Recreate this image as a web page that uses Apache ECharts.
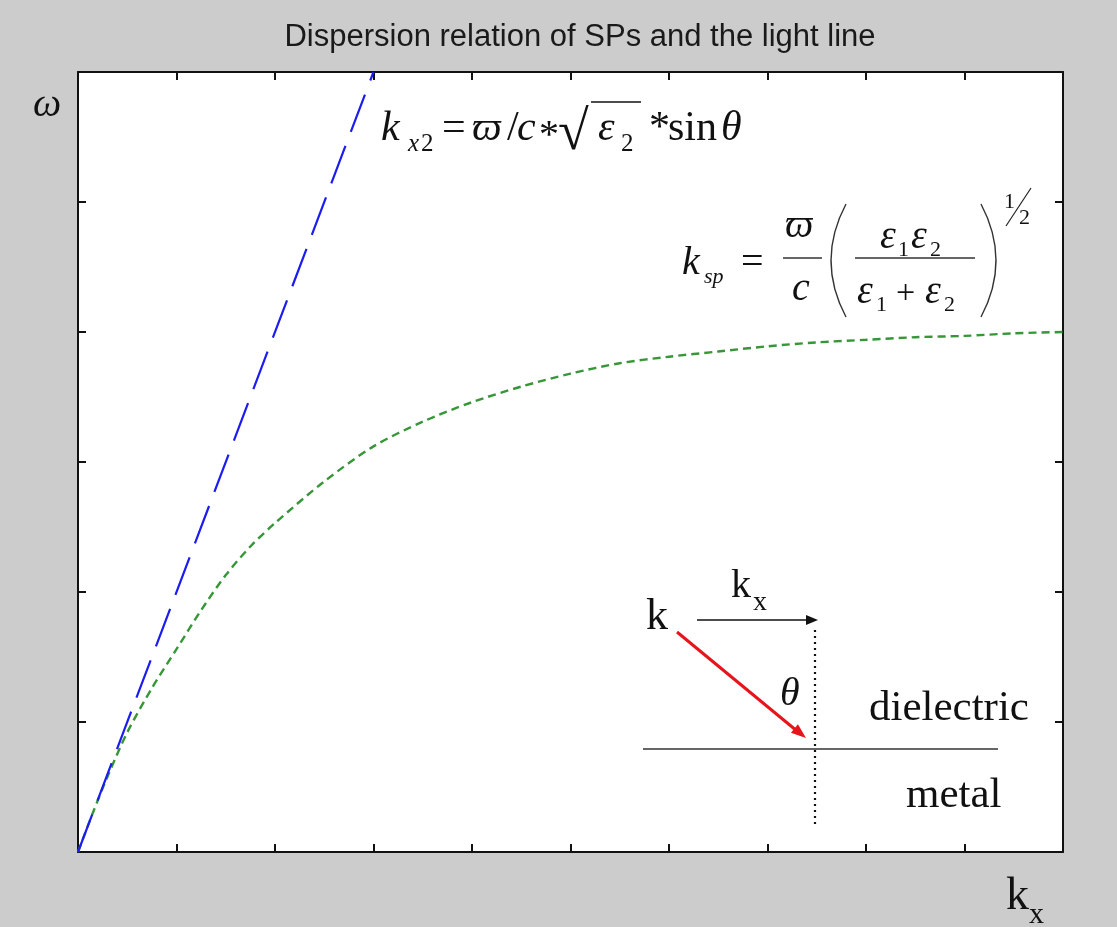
<!DOCTYPE html>
<html>
<head>
<meta charset="utf-8">
<script src="https://cdn.jsdelivr.net/npm/echarts@6/dist/echarts.min.js"></script>
<style>
  html, body { margin: 0; padding: 0; background: #cccccc; }
  #chart { width: 1117px; height: 927px; }
</style>
</head>
<body>
<div id="chart"></div>
<script>
// Light line: omega = 2 kx, drawn up to the top of the frame
const lightKx = [0, 3];
const lightOmega = [0, 6];

// Surface-plasmon dispersion, approaching its asymptote near omega = 4
const spKx = [0, 0.15, 0.3, 0.5, 0.75, 1.0, 1.25, 1.5, 1.75, 2.0, 2.5, 3.0, 3.5,
              4.0, 4.5, 5.0, 5.5, 6.0, 6.5, 7.0, 7.5, 8.0, 8.5, 9.0, 9.5, 10];
const spOmega = [0, 0.3, 0.58, 0.92, 1.26, 1.56, 1.86, 2.13, 2.35, 2.53, 2.85, 3.12, 3.31,
                 3.46, 3.58, 3.68, 3.76, 3.81, 3.85, 3.89, 3.92, 3.94, 3.96, 3.97, 3.99, 4.0];

// Axis extents (no tick labels are drawn)
const xRange = [0, 10], xStep = 1;
const yRange = [0, 6], yStep = 1;

const titleText = 'Dispersion relation of SPs and the light line';

const SERIF = '"Liberation Serif", "Times New Roman", serif';
const INK = '#111';

// text placed by its alphabetic baseline
function txt(x, base, s, size, italic, extra) {
  const style = Object.assign({
    text: s,
    font: (italic ? 'italic ' : '') + size + 'px ' + SERIF,
    fill: INK,
    align: 'left',
    verticalAlign: 'middle'
  }, extra || {});
  return { type: 'text', x: x, y: base - 0.34 * size, style: style, z: 100 };
}
function seg(x1, y1, x2, y2, w, color, dash) {
  return {
    type: 'line', z: 100,
    shape: { x1: x1, y1: y1, x2: x2, y2: y2 },
    style: { stroke: color || INK, lineWidth: w || 1.5, lineDash: dash || null }
  };
}
function head(tip, dir, len, half, color) {
  const n = Math.hypot(dir[0], dir[1]);
  const ux = dir[0] / n, uy = dir[1] / n;
  const bx = tip[0] - ux * len, by = tip[1] - uy * len;
  return {
    type: 'polygon', z: 100,
    shape: { points: [tip, [bx - uy * half, by + ux * half], [bx + uy * half, by - ux * half]] },
    style: { fill: color }
  };
}
function paren(x, top, bottom, bulge) {
  return {
    type: 'bezierCurve', z: 100,
    shape: { x1: x, y1: top, x2: x, y2: bottom, cpx1: x + bulge, cpy1: (top + bottom) / 2 },
    style: { stroke: '#333', lineWidth: 1.4, fill: null }
  };
}

const graphics = [
  // title
  { type: 'text', x: 580, y: 48 - 0.34 * 31, z: 100,
    style: { text: titleText, font: '31px "Liberation Sans", Arial, sans-serif',
             fill: '#1a1a1a', align: 'center', verticalAlign: 'middle' } },
  // axis names
  txt(33, 119, 'ω', 40, true),
  txt(1006, 913, 'k', 46, false),
  txt(1029, 925, 'x', 30, false),

  // light-line formula
  txt(381, 143, 'k', 42, true),
  txt(408, 153, 'x', 25, true),
  txt(421, 153, '2', 25, false),
  txt(442, 143, '=', 42, false),
  txt(472, 143, 'ϖ', 42, true),
  txt(507, 143, '/', 42, false),
  txt(517, 143, 'c', 42, true),
  txt(539, 150, '*', 40, false),
  txt(558, 153, '√', 56, false),
  seg(591, 102, 641, 102, 1.6),
  txt(598, 143, 'ε', 42, true),
  txt(621, 153, '2', 25, false),
  txt(649, 143, '*', 42, false),
  txt(668, 143, 'sin', 42, false),
  txt(721, 143, 'θ', 42, true),

  // surface-plasmon formula
  txt(682, 277, 'k', 40, true),
  txt(704, 285, 'sp', 22, true),
  txt(741, 277, '=', 40, false),
  txt(785, 240, 'ϖ', 40, true),
  seg(783, 258, 822, 258, 1.5, '#333'),
  txt(792, 303, 'c', 40, true),
  paren(846, 204, 317, -30),
  txt(880, 251, 'ε', 40, true),
  txt(898, 258, '1', 22, false),
  txt(911, 251, 'ε', 40, true),
  txt(930, 258, '2', 22, false),
  seg(855, 258, 975, 258, 1.5, '#333'),
  txt(857, 306, 'ε', 40, true),
  txt(876, 313, '1', 22, false),
  txt(896, 306, '+', 34, false),
  txt(925, 306, 'ε', 40, true),
  txt(944, 313, '2', 22, false),
  paren(981, 204, 317, 30),
  txt(1004, 210, '1', 22, false),
  seg(1006, 226, 1031, 188, 1.2, '#222'),
  txt(1019, 226, '2', 22, false),

  // wave-vector sketch at the dielectric / metal interface
  txt(646, 632, 'k', 44, false),
  txt(731, 600, 'k', 40, false),
  txt(753, 612, 'x', 28, false),
  seg(697, 620, 806, 620, 1.6, '#111'),
  head([818, 620], [1, 0], 12, 5, '#111'),
  seg(677, 632, 797, 731, 3, '#e8141b'),
  head([806, 738], [127, 105], 15, 5.5, '#e8141b'),
  seg(815, 630, 815, 828, 2.2, '#111', [2, 4]),
  txt(780, 708, 'θ', 40, true),
  seg(643, 749, 998, 749, 1.5, '#333'),
  txt(869, 723, 'dielectric', 43, false),
  txt(906, 810, 'metal', 43, false)
];

function frameAxis(pos, range, step) {
  return {
    type: 'value', position: pos, min: range[0], max: range[1], interval: step,
    axisLine: { show: true, onZero: false, lineStyle: { color: '#111', width: 2 } },
    axisTick: { show: true, inside: true, length: 8, lineStyle: { color: '#111', width: 2 } },
    axisLabel: { show: false },
    splitLine: { show: false }
  };
}

const chart = echarts.init(document.getElementById('chart'), null, { renderer: 'canvas' });
chart.setOption({
  backgroundColor: '#cccccc',
  animation: false,
  grid: { left: 78, right: 54, top: 72, bottom: 75, show: true,
          backgroundColor: '#ffffff', borderWidth: 0 },
  xAxis: [frameAxis('bottom', xRange, xStep), frameAxis('top', xRange, xStep)],
  yAxis: [frameAxis('left', yRange, yStep), frameAxis('right', yRange, yStep)],
  series: [
    {
      name: 'light line', type: 'line', showSymbol: false, symbol: 'none',
      data: lightKx.map((k, i) => [k, lightOmega[i]]),
      lineStyle: { color: '#1c1cf0', width: 2.2, type: [40, 15] },
      z: 3
    },
    {
      name: 'SP dispersion', type: 'line', showSymbol: false, symbol: 'none', smooth: 0.3,
      data: spKx.map((k, i) => [k, spOmega[i]]),
      lineStyle: { color: '#379637', width: 2.4, type: [8, 5] },
      z: 2
    }
  ],
  graphic: graphics
});
</script>
</body>
</html>
